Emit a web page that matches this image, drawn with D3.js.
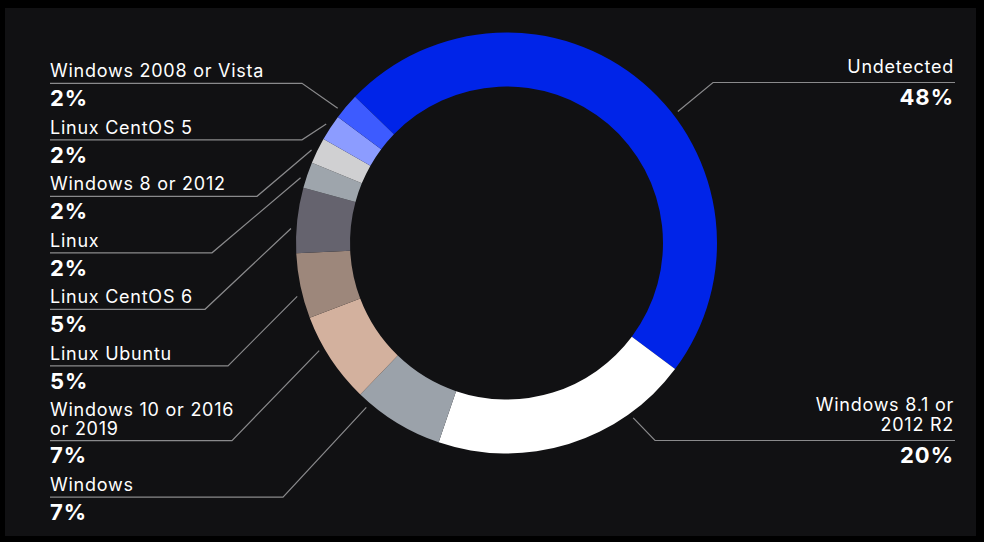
<!DOCTYPE html>
<html>
<head>
<meta charset="utf-8">
<script src="https://cdn.jsdelivr.net/npm/d3@7"></script>
<style>
  html, body { margin: 0; padding: 0; background: #000; }
  svg { display: block; }
  text { font-family: Inter, "Noto Sans", sans-serif; fill: #fff; }
</style>
</head>
<body>
<div id="chart"></div>
<script>
// data (clockwise from the top-left)
const categories = [
    "Undetected",
    "Windows 8.1 or|2012 R2",
    "Windows",
    "Windows 10 or 2016|or 2019",
    "Linux Ubuntu",
    "Linux CentOS 6",
    "Linux",
    "Windows 8 or 2012",
    "Linux CentOS 5",
    "Windows 2008 or Vista"
];
const values = [48, 20, 7, 7, 5, 5, 2, 2, 2, 2];
const colors = ["#0024e8", "#ffffff", "#9ba2aa", "#d3b19e", "#9d877b", "#65636e", "#9ea5ac", "#d0d0d2", "#8c9cff", "#3d5bff"];

// layout of the callouts
const anchorFrac = [0.57, 0.24, 0.86, 0.64, 0.36, 0.37, 0.33, 0.43, 0.53, 0.25];
const elbowX = [713, 655, 283, 232, 228, 205, 212, 257, 302, 302];
const rightIdx = [0, 1];
const rightTop = [73, 411];
const leftIdx = [9, 8, 7, 6, 5, 4, 3, 2];

const W = 984, H = 542;
const cx = 506.5, cy = 243;
const rOuter = 210.5, rInner = 156.5;

const svg = d3.select("#chart")
    .append("svg")
    .attr("width", W)
    .attr("height", H);

svg.append("rect")
    .attr("x", 5).attr("y", 8)
    .attr("width", 971).attr("height", 528)
    .attr("fill", "#111113");

const start = -46 * Math.PI / 180;
const pie = d3.pie()
    .sort(null)
    .startAngle(start)
    .endAngle(start + 2 * Math.PI);

const arcs = pie(values);

const arc = d3.arc()
    .innerRadius(rInner)
    .outerRadius(rOuter);

const g = svg.append("g")
    .attr("transform", `translate(${cx},${cy})`);

g.selectAll("path")
    .data(arcs)
    .join("path")
    .attr("d", arc)
    .attr("fill", (d, i) => colors[i]);

const anchor = i => {
    const a = arcs[i].startAngle + (arcs[i].endAngle - arcs[i].startAngle) * anchorFrac[i];
    const r = rOuter + 5.5;
    return [cx + r * Math.sin(a), cy - r * Math.cos(a)];
};

const lines = svg.append("g")
    .attr("fill", "none")
    .attr("stroke", "#8a8a8c")
    .attr("stroke-width", 1.2);

function callout(i, y0, side) {
    const parts = categories[i].split("|");
    const tx = side === "left" ? 50 : 954;
    const anchorText = side === "left" ? "start" : "end";
    const lh = side === "left" ? 18.3 : 20;
    const t = svg.append("text")
        .attr("text-anchor", anchorText)
        .attr("font-size", 18)
        .attr("letter-spacing", 0.75);
    parts.forEach((p, k) => {
        t.append("tspan").attr("x", tx).attr("y", y0 + k * lh).text(p);
    });
    const last = y0 + (parts.length - 1) * lh;
    const uy = last + (side === "left" ? 6 : 9.5);
    const py = uy + 22.8;
    svg.append("text")
        .attr("x", tx)
        .attr("y", py)
        .attr("text-anchor", anchorText)
        .attr("font-size", 22)
        .attr("font-weight", 700)
        .attr("letter-spacing", 1)
        .text(values[i] + "%");
    const [ax, ay] = anchor(i);
    const pts = side === "left"
        ? [[50, uy], [elbowX[i], uy], [ax, ay]]
        : [[955, uy], [elbowX[i], uy], [ax, ay]];
    lines.append("path").attr("d", d3.line()(pts));
    return py;
}

let y = 77.3;
leftIdx.forEach(i => {
    const py = callout(i, y, "left");
    y = py + 27.7;
});
rightIdx.forEach((i, k) => callout(i, rightTop[k], "right"));
</script>
</body>
</html>
